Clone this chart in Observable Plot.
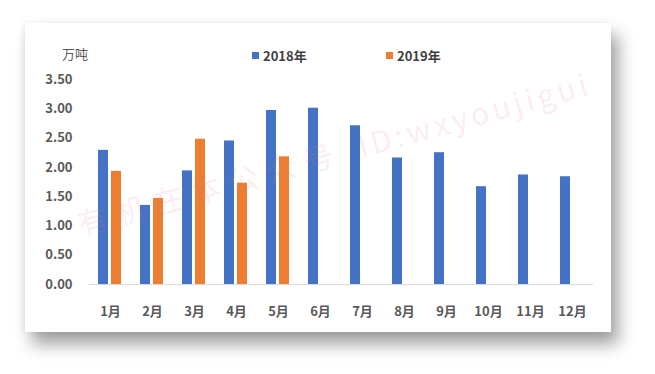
<!DOCTYPE html>
<html>
<head>
<meta charset="utf-8">
<script src="https://cdn.jsdelivr.net/npm/d3@7"></script>
<script src="https://cdn.jsdelivr.net/npm/@observablehq/plot@0.6"></script>
<style>
  html, body { margin: 0; padding: 0; background: #ffffff; }
  #wrap { position: relative; width: 655px; height: 374px; overflow: hidden;
    font-family: "Noto Sans CJK SC", "Noto Sans", sans-serif; }
  #card { position: absolute; left: 25px; top: 23px; width: 586px; height: 309px; background: #fff;
    box-shadow: 7px 12px 16px rgba(0,0,0,0.38), -2px 0 6px rgba(0,0,0,0.06); }
  #chart { position: absolute; left: 0; top: 0; }
  .unit { position: absolute; left: 62px; top: 44px; font-size: 13px; color: #595959; }
  .leg { position: absolute; top: 46px; font-size: 13px; font-weight: bold; color: #404040; display: flex; align-items: center; }
  .leg i { display: inline-block; width: 7px; height: 7px; margin-right: 4px; }
  .wm { position: absolute; left: 72px; top: 202px; font-size: 30px; color: rgba(235,120,140,0.15);
    transform: rotate(-15.5deg); transform-origin: left top; white-space: nowrap; }
  .wm .cjk { letter-spacing: 9px; }
  .wm .lat { letter-spacing: 4px; margin-left: 18px; }
</style>
</head>
<body>
<div id="wrap">
  <div id="card"></div>
  <div class="unit">万吨</div>
  <div class="leg" style="left:252px"><i style="background:#4472C4"></i>2018年</div>
  <div class="leg" style="left:386px"><i style="background:#ED7D31"></i>2019年</div>
  <div id="chart"></div>
  <div class="wm"><span class="cjk">有机在本公众号</span><span class="lat">ID:wxyoujigui</span></div>
</div>
<script>
const months = ["1月","2月","3月","4月","5月","6月","7月","8月","9月","10月","11月","12月"];
const series = ["2018年","2019年"];
const v2018 = [2.29, 1.35, 1.94, 2.45, 2.97, 3.01, 2.71, 2.16, 2.25, 1.67, 1.87, 1.84];
const v2019 = [1.93, 1.47, 2.48, 1.73, 2.18];
const yTicks = [0, 0.5, 1, 1.5, 2, 2.5, 3, 3.5];
const colors = ["#4472C4", "#ED7D31"];

const data = [];
months.forEach((m, i) => {
  data.push({month: m, series: series[0], value: v2018[i]});
  if (i < v2019.length) data.push({month: m, series: series[1], value: v2019[i]});
});

const chart = Plot.plot({
  width: 655,
  height: 374,
  marginLeft: 88,
  marginRight: 62,
  marginTop: 79,
  marginBottom: 90,
  style: {background: "transparent", fontFamily: "'Noto Sans CJK SC', 'Noto Sans', sans-serif", fontSize: "13px", fontWeight: "bold", color: "#595959"},
  fx: {domain: months, padding: 0, label: null, tickSize: 0, tickPadding: 22},
  x: {domain: series, axis: null, paddingInner: 0.23, paddingOuter: 0.73},
  y: {domain: [0, 3.5], ticks: yTicks, tickFormat: d3.format(".2f"), label: null, tickSize: 0, tickPadding: 17},
  color: {domain: series, range: colors},
  marks: [
    Plot.ruleY([0], {stroke: "#d9d9d9", strokeWidth: 1}),
    Plot.barY(data, {fx: "month", x: "series", y: "value", fill: "series"})
  ]
});
document.getElementById("chart").appendChild(chart);
</script>
</body>
</html>
